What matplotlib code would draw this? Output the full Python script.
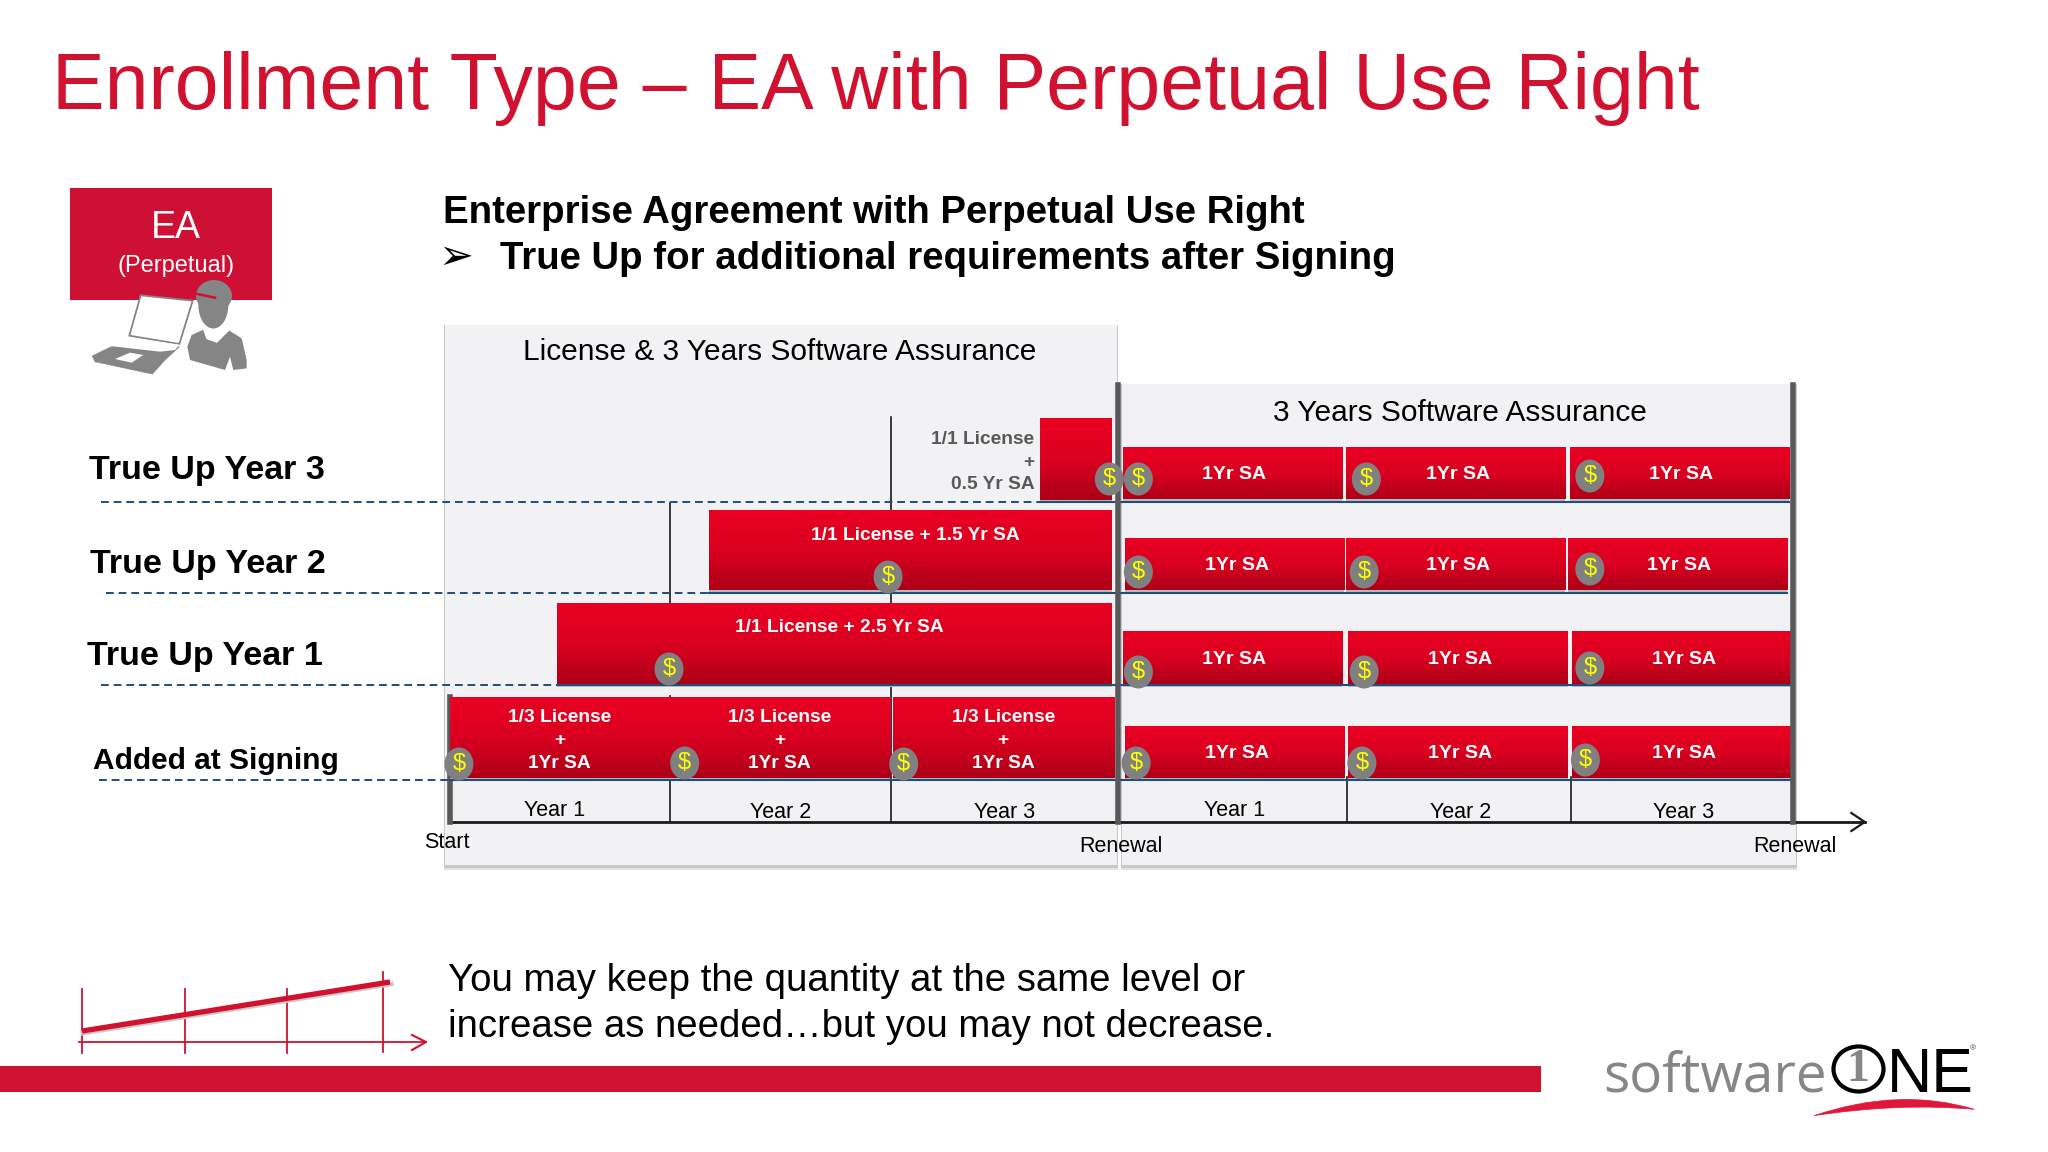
import matplotlib
matplotlib.use("Agg")
import matplotlib.pyplot as plt
from matplotlib.colors import LinearSegmentedColormap
from matplotlib.patches import Rectangle, Polygon, Ellipse, PathPatch
from matplotlib.path import Path
import numpy as np

plt.rcParams['font.family'] = ['Liberation Sans', 'DejaVu Sans']

# signing + true up bars, contract years on x, quantity level on y
left_start = [0.00, 0.98, 1.98, 0.48, 1.16, 2.64]
left_end = [0.98, 1.97, 2.97, 2.96, 2.96, 2.96]
left_bottom = [0.44, 0.44, 0.44, 1.38, 2.32, 3.22]
left_top = [1.25, 1.25, 1.25, 2.19, 3.12, 4.04]
left_label = ["1/3 License\n+\n1Yr SA", "1/3 License\n+\n1Yr SA", "1/3 License\n+\n1Yr SA",
              "1/1 License + 2.5 Yr SA", "1/1 License + 1.5 Yr SA", ""]

# renewal bars
right_start = [3.01, 4.01, 5.01, 3.02, 4.01, 5.00, 3.01, 4.02, 5.02, 3.02, 4.02, 5.02]
right_end = [3.99, 4.99, 5.99, 4.00, 4.99, 5.98, 3.99, 5.00, 6.00, 4.00, 5.00, 6.00]
right_bottom = [3.23] * 3 + [2.32] * 3 + [1.38] * 3 + [0.44] * 3
right_top = [3.75] * 3 + [2.84] * 3 + [1.91] * 3 + [0.96] * 3
right_label = "1Yr SA"

# payment coins
coin_t = [0.04, 1.05, 2.03, 3.07, 4.08, 5.08,
          0.98, 3.08, 4.09, 5.10,
          1.96, 3.08, 4.09, 5.10,
          2.95, 3.08, 4.10, 5.10]
coin_q = [0.58, 0.59, 0.58, 0.59, 0.59, 0.62,
          1.53, 1.50, 1.50, 1.54,
          2.45, 2.50, 2.50, 2.53,
          3.43, 3.43, 3.43, 3.46]

year_t = [0.47, 1.48, 2.48, 3.51, 4.52, 5.52]
year_q = [0.11, 0.09, 0.09, 0.11, 0.09, 0.09]
year_labels = ["Year 1", "Year 2", "Year 3", "Year 1", "Year 2", "Year 3"]

row_labels = ["True Up Year 3", "True Up Year 2", "True Up Year 1", "Added at Signing"]
row_rule_q = [3.205, 2.29, 1.37, 0.42]
row_rule_start = [2.64, 1.16, 0.48, 0.0]
row_dash_start = [-1.56, -1.54, -1.56, -1.57]
row_label_x = [89, 90, 87, 93]
row_label_y = [471, 564, 656, 761]
row_label_size = [24.5, 24.5, 24.5, 21.5]
row_rule_end = [5.99, 5.98, 6.00, 6.00]

RED = "#D0112F"
GREY = "#595959"
BLUE = "#1F4E79"

fig = plt.figure(figsize=(20.48, 11.52), dpi=100)

# page furniture in pixels
deco = fig.add_axes([0, 0, 1, 1], zorder=0)
deco.set_xlim(0, 2048)
deco.set_ylim(1152, 0)
deco.axis("off")

# gantt part on years / quantity
x0, per_year = 450.0, 223.5
ax = fig.add_axes([0, 0, 1, 1], zorder=1)
ax.patch.set_alpha(0)
xlim = ((0 - x0) / per_year, (2048 - x0) / per_year)
ylim = (-3.30, 8.22)
ax.axis("off")

deco.text(52, 88, "Enrollment Type – EA with Perpetual Use Right", fontsize=56.8, color=RED,
          va="center", ha="left")

# EA box + icon
deco.add_patch(Rectangle((70, 188), 202, 112, color="#CE1034", lw=0))
deco.text(176, 228, "EA", color="white", fontsize=27, ha="center", va="center")
deco.text(176, 266, "(Perpetual)", color="white", fontsize=17, ha="center", va="center")


def icon_pts(pts):
    return [(50 + a / 3, 170 + b / 3) for a, b in pts]


ic = "#858585"
deco.add_patch(Polygon(icon_pts([(272, 376), (428, 392), (388, 522), (238, 497)]), fc="white", ec=ic, lw=1.3, zorder=3))
deco.add_patch(Polygon(icon_pts([(127, 558), (180, 532), (235, 512), (330, 530), (388, 530), (345, 570), (307, 612), (135, 575)]),
                       fc=ic, ec=ic, lw=0.5, zorder=3))
deco.add_patch(Polygon(icon_pts([(180, 528), (238, 502), (388, 524), (375, 540), (330, 545)]), fc="white", ec="none", zorder=3))
deco.add_patch(Polygon(icon_pts([(195, 567), (240, 548), (280, 555), (245, 578)]), fc="white", ec="none", zorder=4))
deco.add_patch(Polygon(icon_pts([(412, 530), (425, 495), (462, 478), (470, 505), (500, 515), (535, 480), (575, 505), (590, 570),
                                 (590, 595), (550, 600), (540, 560), (525, 600), (420, 570)]), fc=ic, ec="none", zorder=3))
deco.add_patch(Ellipse((50 + 490 / 3, 170 + 405 / 3), 30, 47, fc=ic, ec="none", zorder=3))
deco.add_patch(Ellipse((50 + 492 / 3, 170 + 378 / 3), 36, 32, fc=ic, ec="none", zorder=3))
deco.plot([50 + 432 / 3, 50 + 495 / 3], [170 + 370 / 3, 170 + 383 / 3], color="#CE1034", lw=1.8, zorder=4)
collar = icon_pts([(462, 478), (472, 505), (500, 515), (535, 480)])
deco.plot([c[0] for c in collar], [c[1] for c in collar], color="white", lw=1.5, zorder=4)

deco.text(443, 213, "Enterprise Agreement with Perpetual Use Right", fontsize=27.6, fontweight="bold", va="center")
deco.text(456, 257, "➢", fontsize=30, ha="center", va="center", family="DejaVu Sans")
deco.text(500, 259, "True Up for additional requirements after Signing", fontsize=27.6, fontweight="bold", va="center")

# grey panels with soft bottom shadow
for l, r, t, b in [(445, 1117, 325, 865), (1122, 1796, 384, 865)]:
    for off, col in [(5, "#E2E2E5"), (3, "#C8C8CC")]:
        deco.add_patch(Rectangle((l - 1, t), r - l + 2, b - t + off, color=col, lw=0, zorder=1))
    deco.add_patch(Rectangle((l, t), r - l, b - t, color="#F2F2F4", lw=0, zorder=1.1))

deco.text(780, 352, "License & 3 Years Software Assurance", fontsize=21.5, ha="center", va="center")
deco.text(1460, 413, "3 Years Software Assurance", fontsize=21.5, ha="center", va="center")
deco.text(447, 843, "Start", fontsize=15.5, ha="center", va="center")
deco.text(1121, 847, "Renewal", fontsize=15.5, ha="center", va="center")
deco.text(1795, 847, "Renewal", fontsize=15.5, ha="center", va="center")

for lab, px, py, fs in zip(row_labels, row_label_x, row_label_y, row_label_size):
    deco.text(px, py, lab, fontsize=fs, fontweight="bold", va="center")

# gantt
grad = LinearSegmentedColormap.from_list("bar", ["#EA0022", "#DA0020", "#AE0018"])
shade = np.linspace(0, 1, 64)[:, None]


def red_bar(start, end, bottom, top):
    # real bar first, gradient image clipped to it
    b = ax.barh((bottom + top) / 2, end - start, left=start, height=top - bottom, color="#D00020", lw=0, zorder=3)[0]
    ax.barh(bottom - 0.012, end - start, left=start, height=0.04, color="#B9BCC4", lw=0, zorder=2.5)
    im = ax.imshow(shade, cmap=grad, extent=(start, end, bottom, top), origin="upper", aspect="auto", zorder=3.1)
    im.set_clip_path(b)


for s, e, b, t, lab in zip(left_start, left_end, left_bottom, left_top, left_label):
    red_bar(s, e, b, t)
    if "\n" in lab:
        ax.text((s + e) / 2, (b + t) / 2 - 0.03, lab, color="white", fontsize=13.8, fontweight="bold",
                ha="center", va="center", zorder=5, linespacing=1.45)
    elif lab:
        ax.text((s + e) / 2 + 0.02, t - 0.25, lab, color="white", fontsize=13.8, fontweight="bold",
                ha="center", va="center", zorder=5)

for s, e, b, t in zip(right_start, right_end, right_bottom, right_top):
    red_bar(s, e, b, t)
    ax.text((s + e) / 2 + 0.01, (b + t) / 2 - 0.015, right_label, color="white", fontsize=14, fontweight="bold",
            ha="center", va="center", zorder=5)

ax.text(2.615, 3.60, "1/1 License\n+\n0.5 Yr SA", color=GREY, fontsize=13.8, fontweight="bold", ha="right", va="center",
        zorder=5, linespacing=1.45)

# timeline lines
ax.plot([0.0, 6.33], [0, 0], color="#1A1A1A", lw=2, zorder=2.2)
ax.plot([6.27, 6.33, 6.27], [0.09, 0, -0.09], color="#1A1A1A", lw=1.6, zorder=2.2)
ax.plot([0.0, 0.0], [0, 1.25], color=GREY, lw=4, zorder=2.2)
ax.plot([2.99, 2.99], [0, 4.37], color=GREY, lw=4, zorder=4)
ax.plot([6.01, 6.01], [0, 4.37], color=GREY, lw=4, zorder=4)
for t, bot, top in [(0.985, 0, 1.26), (0.985, 2.19, 3.19), (1.975, 0, 1.37), (1.975, 2.19, 2.32), (1.975, 3.12, 4.05),
                    (4.015, 0, 0.45), (5.015, 0, 0.45)]:
    ax.plot([t, t], [bot, top], color="#1A1A1A", lw=1.2, zorder=2.2)

for q, s, ds, e in zip(row_rule_q, row_rule_start, row_dash_start, row_rule_end):
    ax.plot([ds, s], [q, q], color=BLUE, lw=1.4, ls=(0, (4, 2.5)), zorder=2.3)
    ax.plot([s, e], [q, q], color=BLUE, lw=1.5, zorder=3.5)

for t, q in zip(coin_t, coin_q):
    ax.add_patch(Ellipse((t, q), 29 / per_year, 0.33, fc="#808080", ec="none", zorder=6))
    ax.text(t, q, "$", color="#FFFF00", fontsize=17, ha="center", va="center", zorder=7)

for t, q, lab in zip(year_t, year_q, year_labels):
    ax.text(t, q, lab, fontsize=15.5, ha="center", va="center", zorder=5)

ax.set_xlim(*xlim)
ax.set_ylim(*ylim)

# small growth sketch
for px, top, bot in [(82, 989, 1053), (185, 989, 1053), (287, 989, 1053), (383, 972, 1052)]:
    deco.plot([px, px], [top, bot], color=RED, lw=1.3)
deco.plot([79, 426], [1042, 1042], color=RED, lw=1.3)
deco.plot([412, 426, 412], [1035, 1042, 1050], color=RED, lw=1.5)
deco.plot([83, 391], [1033, 984], color="#C9C9C9", lw=3.5)
deco.plot([82, 390], [1031, 982], color=RED, lw=3.8, solid_capstyle="butt")

deco.text(448, 981, "You may keep the quantity at the same level or", fontsize=27.6, va="center")
deco.text(448, 1027, "increase as needed…but you may not decrease.", fontsize=27.6, va="center")

deco.add_patch(Rectangle((0, 1066), 1541, 26, color=RED, lw=0))

# logo
deco.text(1603, 1092, "software", fontsize=39.5, color="#858688", family="Open Sans", va="baseline", ha="left")
deco.add_patch(Ellipse((1858.5, 1069), 50, 45, fc="white", ec="black", lw=3.0, zorder=3))
deco.text(1858, 1070, "1", fontsize=33, fontweight="bold", color="#858688", family="Liberation Serif", ha="center", va="center", zorder=4)
deco.text(1887, 1092, "NE", fontsize=45, color="black", va="baseline", ha="left", zorder=4)
deco.text(1973, 1049, "®", fontsize=6, color="#444444", ha="center", va="center")


def logo_pt(a, b):
    return (1580 + a / 3, 1030 + b / 3)


sw_verts = [logo_pt(702, 257), logo_pt(958, 170), logo_pt(1183, 238), logo_pt(958, 218), logo_pt(702, 257), logo_pt(702, 257)]
sw_codes = [Path.MOVETO, Path.CURVE3, Path.CURVE3, Path.CURVE3, Path.CURVE3, Path.CLOSEPOLY]
deco.add_patch(PathPatch(Path(sw_verts, sw_codes), fc="#E0173A", ec="#E0173A", lw=0.5))

fig.savefig("out.png", dpi=100)
